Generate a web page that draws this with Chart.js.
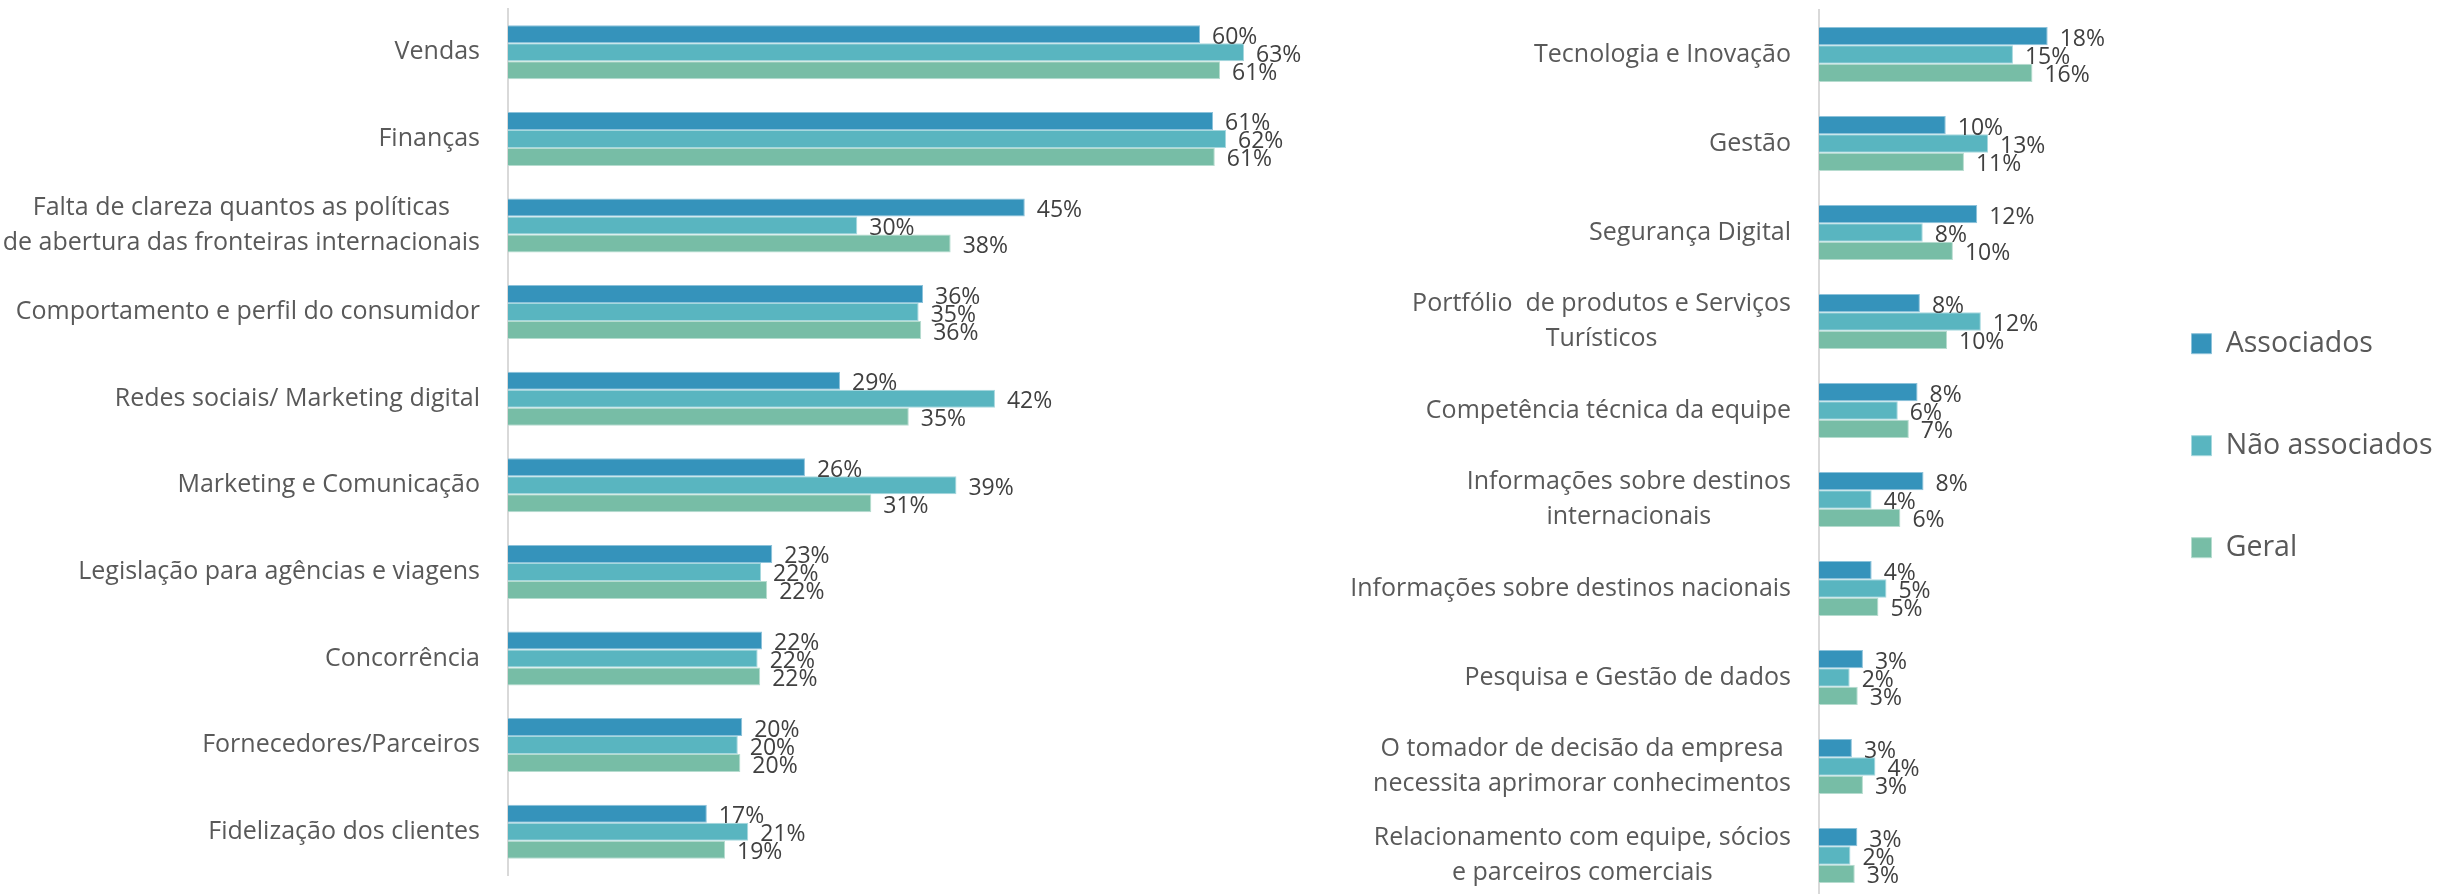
<!DOCTYPE html>
<html>
<head>
<meta charset="utf-8">
<script src="https://cdn.jsdelivr.net/npm/chart.js@4.4.1/dist/chart.umd.min.js"></script>
<style>
  html, body { margin: 0; padding: 0; background: #ffffff; overflow: hidden; width: 2453px; height: 894px; }
  #leftChart { position: absolute; left: 0; top: 0; }
  #rightChart { position: absolute; left: 1330px; top: 0; }
</style>
</head>
<body>
<canvas id="leftChart" width="1330" height="894"></canvas>
<canvas id="rightChart" width="1123" height="910"></canvas>
<script>
// ---------- DATA ----------
const seriesNames = ['Associados', 'Não associados', 'Geral'];

const leftCategories = [
  'Vendas',
  'Finanças',
  ['Falta de clareza quantos as políticas', 'de abertura das fronteiras internacionais'],
  'Comportamento e perfil do consumidor',
  'Redes sociais/ Marketing digital',
  'Marketing e Comunicação',
  'Legislação para agências e viagens',
  'Concorrência',
  'Fornecedores/Parceiros',
  'Fidelização dos clientes'
];
const leftAssociados    = [59.66, 60.78, 44.55, 35.78, 28.62, 25.60, 22.78, 21.90, 20.19, 17.14];
const leftNaoAssociados = [63.45, 61.90, 30.11, 35.40, 41.98, 38.66, 21.82, 21.52, 19.81, 20.71];
const leftGeral         = [61.38, 60.93, 38.16, 35.62, 34.55, 31.32, 22.34, 21.74, 20.03, 18.71];

const rightCategories = [
  'Tecnologia e Inovação',
  'Gestão',
  'Segurança Digital',
  ['Portfólio  de produtos e Serviços', 'Turísticos'],
  'Competência técnica da equipe',
  ['Informações sobre destinos', 'internacionais'],
  'Informações sobre destinos nacionais',
  'Pesquisa e Gestão de dados',
  ['O tomador de decisão da empresa', 'necessita aprimorar conhecimentos'],
  ['Relacionamento com equipe, sócios', 'e parceiros comerciais']
];
const rightAssociados    = [17.59,  9.75, 12.17,  7.76, 7.58, 8.04, 4.05, 3.38, 2.53, 2.95];
const rightNaoAssociados = [14.92, 13.00,  7.98, 12.45, 6.06, 4.05, 5.19, 2.36, 4.34, 2.42];
const rightGeral         = [16.42, 11.15, 10.30,  9.85, 6.91, 6.26, 4.57, 2.98, 3.38, 2.75];

// ---------- STYLE ----------
const FONT = "'Open Sans', 'Noto Sans', sans-serif";
const fillColors   = ['#3593BB', '#59B5C0', '#77BDA6'];
const borderColors = ['#8DC2DA', '#A6D8DE', '#B6DCCF'];
Chart.defaults.font.family = FONT;

// category labels: each multi-line label centered on itself, block right-aligned at the axis
const categoryLabels = {
  id: 'categoryLabels',
  afterDraw(chart) {
    const ys = chart.scales.y;
    const ctx = chart.ctx;
    ctx.save();
    ctx.font = '25px ' + FONT;
    ctx.fillStyle = '#595959';
    ctx.textAlign = 'center';
    ctx.textBaseline = 'middle';
    chart.data.labels.forEach((lab, i) => {
      const lines = Array.isArray(lab) ? lab : [lab];
      const w = Math.max(...lines.map(l => ctx.measureText(l).width));
      const cx = ys.right - 28 - w / 2;
      const cy = ys.getPixelForTick(i);
      lines.forEach((l, j) => ctx.fillText(l, cx, cy + (j - (lines.length - 1) / 2) * 35));
    });
    ctx.restore();
  }
};

// value labels at the end of each bar
const valueLabels = {
  id: 'valueLabels',
  afterDatasetsDraw(chart) {
    const ctx = chart.ctx;
    ctx.save();
    ctx.font = '23px ' + FONT;
    ctx.fillStyle = '#404040';
    ctx.textAlign = 'left';
    ctx.textBaseline = 'middle';
    chart.data.datasets.forEach((ds, di) => {
      const meta = chart.getDatasetMeta(di);
      meta.data.forEach((bar, i) => {
        ctx.fillText(Math.round(ds.data[i]) + '%', bar.x + 12, bar.y + 3);
      });
    });
    ctx.restore();
  }
};

function datasets(a, b, c) {
  return [a, b, c].map((d, k) => ({
    label: seriesNames[k],
    data: d,
    backgroundColor: fillColors[k],
    borderColor: borderColors[k],
    borderWidth: 1
  }));
}

new Chart(document.getElementById('leftChart'), {
  type: 'bar',
  data: { labels: leftCategories, datasets: datasets(leftAssociados, leftNaoAssociados, leftGeral) },
  options: {
    indexAxis: 'y',
    responsive: false,
    animation: false,
    devicePixelRatio: 1,
    layout: { padding: { left: 0, right: 10, top: 9, bottom: 19 } },
    datasets: { bar: { categoryPercentage: 0.6236, barPercentage: 1 } },
    plugins: { legend: { display: false }, tooltip: { enabled: false } },
    scales: {
      x: { display: false, min: 0, max: 70 },
      y: {
        ticks: { display: false },
        grid: { display: false, drawTicks: false },
        border: { display: true, color: '#D9D9D9', width: 2 },
        afterFit(s) { s.width = 508; }
      }
    }
  },
  plugins: [categoryLabels, valueLabels]
});

new Chart(document.getElementById('rightChart'), {
  type: 'bar',
  data: { labels: rightCategories, datasets: datasets(rightAssociados, rightNaoAssociados, rightGeral) },
  options: {
    indexAxis: 'y',
    responsive: false,
    animation: false,
    devicePixelRatio: 1,
    layout: { padding: { left: 0, right: 15, top: 10, bottom: 10 } },
    datasets: { bar: { categoryPercentage: 0.618, barPercentage: 1 } },
    plugins: {
      tooltip: { enabled: false },
      legend: {
        display: true,
        position: 'right',
        align: 'start',
        maxWidth: 320,
        title: { display: true, text: '', padding: { top: 231.55, bottom: 0 }, font: { size: 12 } },
        labels: {
          boxWidth: 20,
          boxHeight: 20,
          padding: 73.5,
          color: '#595959',
          font: { size: 28.5, family: FONT }
        }
      }
    },
    scales: {
      x: { display: false, min: 0, max: 23 },
      y: {
        ticks: { display: false },
        grid: { display: false, drawTicks: false },
        border: { display: true, color: '#D9D9D9', width: 2 },
        afterFit(s) { s.width = 489; }
      }
    }
  },
  plugins: [categoryLabels, valueLabels]
});
</script>
</body>
</html>
